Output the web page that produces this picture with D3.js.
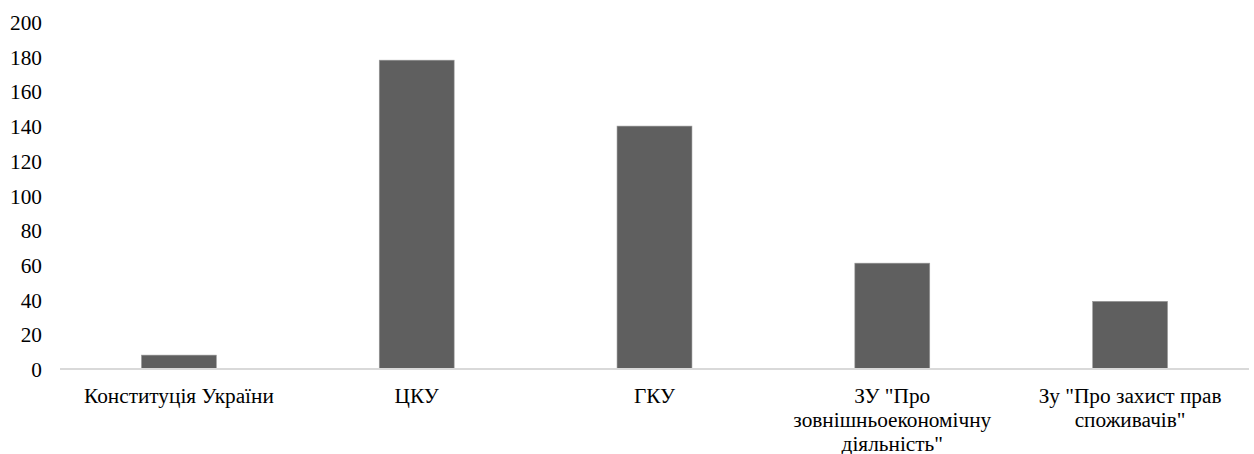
<!DOCTYPE HTML>
<html>
<head>
  <title>Bar chart</title>
  <meta charset="UTF-8">
</head>
<script src="https://d3js.org/d3.v7.min.js"></script>

<style>
body {
  margin: 0;
  background: #fff;
}

text {
  font-family: "Liberation Serif", "Times New Roman", serif;
  font-size: 21.3px;
  fill: #000;
}

.bar {
  fill: #5f5f5f;
  stroke: #9a9a9a;
  stroke-width: 0.6;
}

.axis-line {
  stroke: #d9d9d9;
  stroke-width: 2;
}
</style>

<body>
  <svg width="1254" height="454"></svg>
  <script>
    // data
    var categories = [
      "Конституція України",
      "ЦКУ",
      "ГКУ",
      "ЗУ \"Про зовнішньоекономічну діяльність\"",
      "Зу \"Про захист прав споживачів\""
    ]
    var values = [8, 178, 140, 61, 39]
    var yTicks = [0, 20, 40, 60, 80, 100, 120, 140, 160, 180, 200]

    var svg = d3.select("svg")
    var mLeft = 60, mRight = 1249, mTop = 22, mBottom = 369

    var x = d3.scaleBand()
      .domain(categories)
      .range([mLeft, mRight])
      .paddingInner(0.685)
      .paddingOuter(0.3425)

    var y = d3.scaleLinear().domain([0, 200]).range([mBottom, mTop])

    // y tick labels, no axis line or gridlines
    svg.append("g")
      .selectAll("text")
      .data(yTicks)
      .enter().append("text")
      .attr("x", 42)
      .attr("y", function(d) { return y(d) + 8 })
      .attr("text-anchor", "end")
      .text(function(d) { return d })

    svg.selectAll(".bar")
      .data(values)
      .enter().append("rect")
      .attr("class", "bar")
      .attr("x", function(d, i) { return x(categories[i]) })
      .attr("y", function(d) { return y(d) })
      .attr("width", x.bandwidth())
      .attr("height", function(d) { return mBottom - y(d) })

    svg.append("line")
      .attr("class", "axis-line")
      .attr("x1", mLeft)
      .attr("x2", mRight)
      .attr("y1", mBottom)
      .attr("y2", mBottom)

    // category labels, wrapped to roughly the band step
    var labels = svg.append("g")
      .selectAll("text")
      .data(categories)
      .enter().append("text")
      .attr("text-anchor", "middle")
      .attr("x", function(d) { return x(d) + x.bandwidth() / 2 })
      .attr("y", mBottom + 34)

    labels.each(function(d) {
      wrap(d3.select(this), d, 212)
    })

    function wrap(el, str, width) {
      var words = str.split(" "), line = [], lines = []
      var cx = el.attr("x")
      var probe = el.append("tspan")
      words.forEach(function(w) {
        var test = line.concat([w]).join(" ")
        probe.text(test)
        if (line.length && probe.node().getComputedTextLength() > width) {
          lines.push(line.join(" "))
          line = [w]
        } else {
          line.push(w)
        }
      })
      lines.push(line.join(" "))
      probe.remove()
      lines.forEach(function(l, i) {
        el.append("tspan")
          .attr("x", cx)
          .attr("dy", i ? 24 : 0)
          .text(l)
      })
    }
  </script>
</body>
</html>
